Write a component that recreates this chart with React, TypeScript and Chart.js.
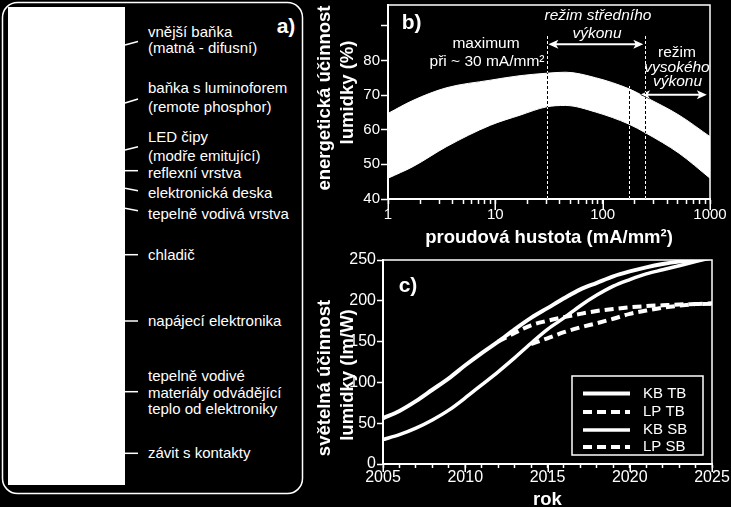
import React, { useEffect, useRef } from 'react';
import { Chart, registerables } from 'chart.js';

Chart.register(...registerables);

const FONT = '"Liberation Sans", Arial, Helvetica, sans-serif';
Chart.defaults.font.family = FONT;
Chart.defaults.color = '#fff';

// ---------- panel b) data ----------
const DENSITY = [1, 1.72, 3.5, 9, 17, 30, 45, 86, 176, 251, 515, 1000];
const EFFICIENCY_HIGH = [64.7, 68.5, 72.1, 74.3, 75.6, 76.3, 76.6, 75.0, 71.8, 69.4, 64.2, 58.0];
const EFFICIENCY_LOW = [46.0, 49.4, 55.1, 61.3, 64.2, 66.6, 67.0, 65.1, 61.6, 59.1, 53.2, 46.0];
const DENSITY_TICKS = [1, 2, 3, 4, 5, 6, 7, 8, 9, 10, 20, 30, 40, 50, 60, 70, 80, 90, 100, 200, 300, 400, 500, 600, 700, 800, 900, 1000];
const DENSITY_LABELS = [1, 10, 100, 1000];
const EFFICIENCY_LABELS = [40, 50, 60, 70, 80];
const REGIME_X = [30, 176, 250];
const REGIME_TOP = [87.6, 72.8, 87.6];
const ARROW_FROM = [31.2, 223];
const ARROW_TO = [239, 934];
const ARROW_Y = [84.7, 70.1];

// ---------- panel c) data ----------
const YEARS = [2005, 2006, 2007, 2008, 2009, 2010, 2011, 2012, 2013, 2014, 2015, 2016, 2017, 2018, 2019, 2020, 2021, 2022, 2023, 2024, 2025];
const KB_TB = [56, 65, 77, 91, 105, 121, 136, 150, 165, 179, 191, 203, 214, 222, 230, 236, 241, 245, 248, 250, 253];
const LP_TB = [null, null, null, null, null, null, null, 150, 160.5, 170, 175.5, 180, 184, 187.5, 190, 192, 193.5, 194.5, 195.5, 196, 196.5];
const KB_SB = [30, 36, 44, 54, 66, 81, 97, 113, 130, 148, 165, 179, 194, 207, 218, 226, 233, 238, 243, 248, 253];
const LP_SB = [null, null, null, null, null, null, null, null, null, 147, 154, 161.5, 167.5, 172.5, 178, 184, 188, 191.5, 194, 196, 197];
const SERIES_NAMES = ['KB TB', 'LP TB', 'KB SB', 'LP SB'];
const YEAR_LABELS = [2005, 2010, 2015, 2020, 2025];
const LUMEN_LABELS = [0, 50, 100, 150, 200, 250];

// ---------- panel a) labels ----------
const PART_LABELS = [
  ['vnější baňka', '(matná - difusní)'],
  ['baňka s luminoforem', '(remote phosphor)'],
  ['LED čipy', '(modře emitující)'],
  ['reflexní vrstva'],
  ['elektronická deska'],
  ['tepelně vodivá vrstva'],
  ['chladič'],
  ['napájecí elektronika'],
  ['tepelně vodivé', 'materiály odvádějící', 'teplo od elektroniky'],
  ['závit s kontakty'],
];
const LABEL_CENTERS = [
  [31.7, 48.3],
  [88.3, 106.7],
  [136.7, 155.8],
  [173.3],
  [192.5],
  [214],
  [255],
  [320.8],
  [375.8, 392.5, 409],
  [453.3],
];
const LEADERS = [
  [45, 41.5],
  [103, 99],
  [150, 146.7],
  [170.7, 170.7],
  [188.3, 190.7],
  [208.3, 210.7],
  [254.7, 254.7],
  [321, 321],
  [391.7, 391.7],
  [453.3, 453.3],
];

// ---------- shared plugin ----------
const decor = {
  id: 'decor',
  afterDraw(chart: any, _args: any, o: any) {
    const { ctx, chartArea: a } = chart;
    ctx.save();
    ctx.strokeStyle = '#fff';
    ctx.fillStyle = '#fff';
    ctx.lineWidth = o.frameWidth;
    ctx.strokeRect(a.left, a.top, a.right - a.left, a.bottom - a.top);
    const sx = chart.scales.x;
    ctx.lineWidth = 1.5;
    o.majors.forEach((v: number) => {
      const px = Math.round(sx.getPixelForValue(v)) + 0.25;
      ctx.beginPath();
      ctx.moveTo(px, a.bottom);
      ctx.lineTo(px, a.bottom + o.majorLength);
      ctx.stroke();
    });
    ctx.font = `bold ${o.titleSize}px ${FONT}`;
    ctx.textAlign = 'center';
    ctx.textBaseline = 'middle';
    o.yTitle.forEach((t: string, i: number) => {
      ctx.save();
      ctx.translate(o.yTitleX[i], o.yTitleY[i]);
      ctx.rotate(-Math.PI / 2);
      ctx.fillText(t, 0, 0);
      ctx.restore();
    });
    ctx.font = `bold 21px ${FONT}`;
    ctx.fillText(o.tag, a.left + o.tagDX, a.top + o.tagDY);
    ctx.restore();
  },
};

// ---------- panel b) notes ----------
const regimeNotes = {
  id: 'regimeNotes',
  afterDatasetsDraw(chart: any) {
    const { ctx, scales } = chart;
    const x = scales.x;
    const y = scales.y;
    ctx.save();
    ctx.globalCompositeOperation = 'difference';
    ctx.strokeStyle = '#fff';
    ctx.fillStyle = '#fff';
    ctx.lineWidth = 1;
    ctx.setLineDash([3, 2]);
    REGIME_X.forEach((v, i) => {
      const px = Math.round(x.getPixelForValue(v)) + 0.5;
      ctx.beginPath();
      ctx.moveTo(px, y.getPixelForValue(40));
      ctx.lineTo(px, y.getPixelForValue(REGIME_TOP[i]));
      ctx.stroke();
    });
    ctx.setLineDash([]);
    const h = 10;
    const w = 4.5;
    ARROW_Y.forEach((yv, i) => {
      const py = y.getPixelForValue(yv);
      const x0 = x.getPixelForValue(ARROW_FROM[i]);
      const x1 = x.getPixelForValue(ARROW_TO[i]);
      ctx.beginPath();
      ctx.moveTo(x0, py);
      ctx.lineTo(x0 + h, py - w);
      ctx.lineTo(x0 + h * 0.8, py - 1);
      ctx.lineTo(x1 - h * 0.8, py - 1);
      ctx.lineTo(x1 - h, py - w);
      ctx.lineTo(x1, py);
      ctx.lineTo(x1 - h, py + w);
      ctx.lineTo(x1 - h * 0.8, py + 1);
      ctx.lineTo(x0 + h * 0.8, py + 1);
      ctx.lineTo(x0 + h, py + w);
      ctx.closePath();
      ctx.fill();
    });
    ctx.restore();
  },
  afterDraw(chart: any) {
    const { ctx, chartArea: a } = chart;
    ctx.save();
    ctx.fillStyle = '#fff';
    ctx.textAlign = 'center';
    ctx.textBaseline = 'middle';
    const put = (t: string, dx: number, dy: number, italic: boolean) => {
      ctx.font = `${italic ? 'italic ' : ''}15.5px ${FONT}`;
      ctx.fillText(t, a.left + dx, a.top + dy);
    };
    put('maximum', 98, 39, false);
    put('při ~ 30 mA/mm²', 99, 57, false);
    put('režim středního', 210, 11, true);
    put('výkonu', 209, 29, true);
    put('režim', 289, 48, false);
    put('vysokého', 289, 63, true);
    put('výkonu', 289.5, 77, true);
    ctx.restore();
  },
};

// ---------- panel c) legend ----------
const legendBox = {
  id: 'legendBox',
  afterDraw(chart: any) {
    const { ctx, chartArea: a } = chart;
    const bx = a.left + 189;
    const by = a.top + 116;
    ctx.save();
    ctx.strokeStyle = '#fff';
    ctx.fillStyle = '#fff';
    ctx.lineWidth = 1.5;
    ctx.strokeRect(bx, by, 131, 79);
    const rows = [17.5, 36, 54, 71];
    chart.data.datasets.forEach((ds: any, i: number) => {
      const yy = by + rows[i];
      ctx.lineWidth = ds.borderWidth;
      ctx.setLineDash(ds.borderDash || []);
      ctx.beginPath();
      ctx.moveTo(bx + 11, yy);
      ctx.lineTo(bx + 58, yy);
      ctx.stroke();
      ctx.setLineDash([]);
      ctx.font = `15px ${FONT}`;
      ctx.textAlign = 'left';
      ctx.textBaseline = 'middle';
      ctx.fillText(ds.label, bx + 71, yy);
    });
    ctx.restore();
  },
};

function PanelB() {
  const ref = useRef<HTMLCanvasElement>(null);
  useEffect(() => {
    const band = (vals: number[]) => DENSITY.map((d, i) => ({ x: d, y: vals[i] }));
    const chart = new Chart(ref.current as HTMLCanvasElement, {
      type: 'line',
      data: {
        datasets: [
          {
            label: 'horní mez',
            data: band(EFFICIENCY_HIGH),
            borderColor: '#fff',
            borderWidth: 1,
            backgroundColor: '#fff',
            fill: '+1',
            pointRadius: 0,
            cubicInterpolationMode: 'monotone',
          },
          {
            label: 'dolní mez',
            data: band(EFFICIENCY_LOW),
            borderColor: '#fff',
            borderWidth: 1,
            fill: false,
            pointRadius: 0,
            cubicInterpolationMode: 'monotone',
          },
        ],
      } as any,
      options: {
        animation: false,
        responsive: false,
        devicePixelRatio: 1,
        layout: { padding: { top: 5, right: 21, left: 0, bottom: 0 } },
        plugins: {
          legend: { display: false },
          tooltip: { enabled: false },
          decor: {
            frameWidth: 1.5,
            majors: DENSITY_LABELS,
            majorLength: 11,
            titleSize: 18.5,
            yTitle: ['energetická účinnost', 'lumidky (%)'],
            yTitleX: [25, 48],
            yTitleY: [98, 92.5],
            tag: 'b)',
            tagDX: 23.7,
            tagDY: 18,
          },
        } as any,
        scales: {
          x: {
            type: 'logarithmic',
            min: 1,
            max: 1000,
            afterBuildTicks: (s: any) => {
              s.ticks = DENSITY_TICKS.map((v) => ({ value: v }));
            },
            afterFit: (s: any) => {
              s.height = 51;
              s.paddingLeft = 0;
              s.paddingRight = 0;
            },
            grid: { drawOnChartArea: false, color: '#fff', tickLength: 5, tickWidth: 1.5 },
            border: { color: '#fff', width: 2 },
            ticks: {
              color: '#fff',
              font: { size: 15 },
              padding: 2,
              autoSkip: false,
              maxRotation: 0,
              callback: (v: any) => (DENSITY_LABELS.includes(Number(v)) ? String(v) : ''),
            },
            title: {
              display: true,
              text: 'proudová hustota (mA/mm²)',
              color: '#fff',
              font: { size: 18.5, weight: 'bold' },
              padding: { top: 0, bottom: 1 },
            },
          },
          y: {
            min: 40,
            max: 96,
            afterFit: (s: any) => {
              s.width = 88;
              s.paddingTop = 0;
              s.paddingBottom = 0;
            },
            grid: { drawOnChartArea: false, color: '#fff', tickLength: 7, tickWidth: 1.5 },
            border: { color: '#fff', width: 2 },
            ticks: {
              stepSize: 5,
              includeBounds: false,
              color: '#fff',
              font: { size: 15 },
              padding: 1,
              callback: (v: any) => (EFFICIENCY_LABELS.includes(Number(v)) ? String(v) : ''),
            },
          },
        } as any,
      },
      plugins: [regimeNotes, decor],
    });
    return () => chart.destroy();
  }, []);
  return (
    <canvas
      ref={ref}
      width={431}
      height={250}
      style={{ position: 'absolute', left: 300, top: 0, width: 431, height: 250 }}
    />
  );
}

function PanelC() {
  const ref = useRef<HTMLCanvasElement>(null);
  useEffect(() => {
    const pts = (vals: (number | null)[]) => YEARS.map((yr, i) => ({ x: yr, y: vals[i] }));
    const line = (i: number, vals: (number | null)[], width: number, dash: number[]) => ({
      label: SERIES_NAMES[i],
      data: pts(vals),
      borderColor: '#fff',
      borderWidth: width,
      borderDash: dash,
      fill: false,
      pointRadius: 0,
      cubicInterpolationMode: 'monotone',
      spanGaps: false,
    });
    const chart = new Chart(ref.current as HTMLCanvasElement, {
      type: 'line',
      data: {
        datasets: [
          line(0, KB_TB, 4, []),
          line(1, LP_TB, 4, [9, 5]),
          line(2, KB_SB, 3.5, []),
          line(3, LP_SB, 4, [9, 5]),
        ],
      } as any,
      options: {
        animation: false,
        responsive: false,
        devicePixelRatio: 1,
        layout: { padding: { top: 10, right: 19, left: 0, bottom: 0 } },
        plugins: {
          legend: { display: false },
          tooltip: { enabled: false },
          decor: {
            frameWidth: 1.5,
            majors: YEAR_LABELS,
            majorLength: 8,
            titleSize: 18.5,
            yTitle: ['světelná účinnost', 'lumidky (lm/W)'],
            yTitleX: [25, 48],
            yTitleY: [128, 125],
            tag: 'c)',
            tagDX: 25,
            tagDY: 26,
          },
        } as any,
        scales: {
          x: {
            type: 'linear',
            min: 2005,
            max: 2025,
            afterFit: (s: any) => {
              s.height = 51;
              s.paddingLeft = 0;
              s.paddingRight = 0;
            },
            grid: { drawOnChartArea: false, color: '#fff', tickLength: 4, tickWidth: 1.5 },
            border: { color: '#fff', width: 2 },
            ticks: {
              stepSize: 1,
              color: '#fff',
              font: { size: 16 },
              padding: 0,
              autoSkip: false,
              maxRotation: 0,
              callback: (v: any) => (YEAR_LABELS.includes(Number(v)) ? String(v) : ''),
            },
            title: {
              display: true,
              text: 'rok',
              color: '#fff',
              font: { size: 18.5, weight: 'bold' },
              padding: { top: 0, bottom: 4 },
            },
          },
          y: {
            min: 0,
            max: 250,
            afterFit: (s: any) => {
              s.width = 83;
              s.paddingTop = 0;
              s.paddingBottom = 0;
            },
            grid: { drawOnChartArea: false, color: '#fff', tickLength: 6, tickWidth: 1.5 },
            border: { color: '#fff', width: 2 },
            ticks: {
              stepSize: 50,
              color: '#fff',
              font: { size: 16 },
              padding: 1,
              callback: (v: any) => (LUMEN_LABELS.includes(Number(v)) ? String(v) : ''),
            },
          },
        } as any,
      },
      plugins: [legendBox, decor],
    });
    return () => chart.destroy();
  }, []);
  return (
    <canvas
      ref={ref}
      width={431}
      height={265}
      style={{ position: 'absolute', left: 300, top: 250, width: 431, height: 265 }}
    />
  );
}

function PanelA() {
  return (
    <>
      <svg width={306} height={507} style={{ position: 'absolute', left: 0, top: 0 }}>
        <rect x={2.5} y={2.5} width={300} height={491} rx={15} ry={15} fill="none" stroke="#fff" strokeWidth={1.5} />
        <rect x={8} y={7} width={117} height={478} fill="#fff" />
        {LEADERS.map(([y0, y1], i) => (
          <line key={i} x1={125} y1={y0} x2={138} y2={y1} stroke="#fff" strokeWidth={1.5} />
        ))}
      </svg>
      {PART_LABELS.map((lines, i) =>
        lines.map((t, j) => (
          <div
            key={`${i}-${j}`}
            style={{
              position: 'absolute',
              left: 148,
              top: LABEL_CENTERS[i][j] - 9,
              height: 18,
              lineHeight: '18px',
              fontSize: 15,
              whiteSpace: 'nowrap',
              color: '#fff',
            }}
          >
            {t}
          </div>
        ))
      )}
      <div
        style={{
          position: 'absolute',
          left: 266,
          top: 14,
          width: 40,
          height: 24,
          lineHeight: '24px',
          fontSize: 21,
          fontWeight: 'bold',
          textAlign: 'center',
          color: '#fff',
        }}
      >
        a)
      </div>
    </>
  );
}

export default function App() {
  return (
    <div
      style={{
        position: 'fixed',
        left: 0,
        top: 0,
        width: 731,
        height: 507,
        background: '#000',
        overflow: 'hidden',
        fontFamily: FONT,
        color: '#fff',
      }}
    >
      <PanelA />
      <PanelB />
      <PanelC />
    </div>
  );
}
